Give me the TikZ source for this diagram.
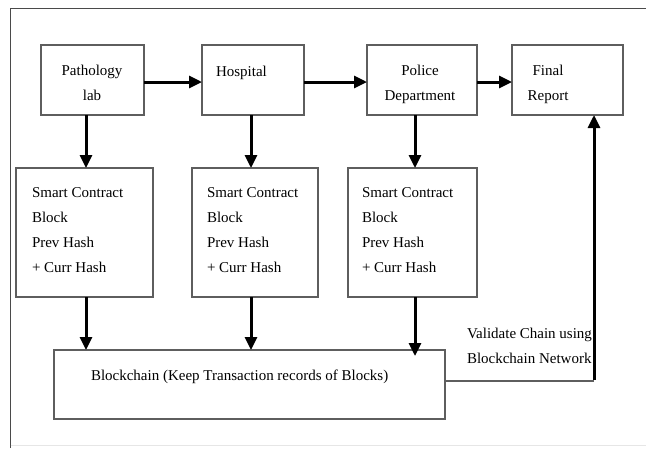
\documentclass[tikz,border=0pt]{standalone}
\usepackage{fontspec}
\setmainfont{Liberation Serif}
\usetikzlibrary{arrows.meta}
\definecolor{boxgrey}{HTML}{5E5E5E}
\definecolor{framegrey}{HTML}{4A4A4A}
\definecolor{faintgrey}{HTML}{E6E6E6}
\begin{document}
\begin{tikzpicture}[x=1pt,y=-1pt,
  box/.style={draw=boxgrey, line width=1.1pt, inner sep=0pt, outer sep=0pt},
  txt/.style={inner sep=0pt, outer sep=0pt, align=left, font=\fontsize{15}{24.7}\selectfont},
  arr/.style={line width=3pt, -{Triangle[length=13pt,width=12pt]}},
  thinline/.style={draw=boxgrey, line width=1.1pt}]
\useasboundingbox (0,0) rectangle (646,448);
% outer frame
\draw[framegrey, line width=1pt] (10.5,448) -- (10.5,8) -- (646,8);
\draw[faintgrey, line width=0.8pt] (10.5,445) -- (646,445);
% top row boxes
\node[box, minimum width=103pt, minimum height=70pt] (path) at (92.5,80) {};
\node[box, minimum width=102pt, minimum height=70pt] (hosp) at (253,80) {};
\node[box, minimum width=110pt, minimum height=70pt] (pol) at (422,80) {};
\node[box, minimum width=111pt, minimum height=70pt] (fin) at (567.5,80) {};
% smart contract boxes
\node[box, minimum width=137pt, minimum height=129pt] (sc1) at (84.5,232.5) {};
\node[box, minimum width=126pt, minimum height=129pt] (sc2) at (255,232.5) {};
\node[box, minimum width=129pt, minimum height=129pt] (sc3) at (412.5,232.5) {};
% blockchain box
\node[box, minimum width=391pt, minimum height=69pt] (bc) at (249.5,384.5) {};
% texts
\node[txt, align=center, anchor=base] (tpath) at (92,100) {Pathology\\lab};
\node[txt, anchor=base west] (thosp) at (216,76) {Hospital};
\node[txt, align=center, anchor=base] (tpol) at (420,100) {Police\\Department};
\node[txt, align=center, anchor=base] (tfin) at (548,100) {Final\\Report};
\node[txt, anchor=north west] (tsc1) at (32,188) {Smart Contract\\Block\\Prev Hash\\+ Curr Hash};
\node[txt, anchor=north west] (tsc2) at (207,188) {Smart Contract\\Block\\Prev Hash\\+ Curr Hash};
\node[txt, anchor=north west] (tsc3) at (362,188) {Smart Contract\\Block\\Prev Hash\\+ Curr Hash};
\node[txt, anchor=base west] (tbc) at (91,380) {Blockchain (Keep Transaction records of Blocks)};
\node[txt, anchor=north west] (tval) at (467,328) {Validate Chain using\\Blockchain Network};
% horizontal arrows
\draw[arr] ([yshift=-2pt]path.east) -- ([yshift=-2pt]hosp.west);
\draw[arr] ([yshift=-2pt]hosp.east) -- ([yshift=-2pt]pol.west);
\draw[arr] ([yshift=-2pt]pol.east) -- ([yshift=-2pt]fin.west);
% vertical arrow columns
\coordinate (c1) at (86,0);
\coordinate (c2) at (251,0);
\coordinate (c3) at (415,0);
\draw[arr] (c1 |- path.south) -- (c1 |- sc1.north);
\draw[arr] (c2 |- hosp.south) -- (c2 |- sc2.north);
\draw[arr] (c3 |- pol.south) -- (c3 |- sc3.north);
\draw[arr] (c1 |- sc1.south) -- (c1 |- bc.north);
\draw[arr] (c2 |- sc2.south) -- (c2 |- bc.north);
\draw[arr] (c3 |- sc3.south) -- ([yshift=-6pt]c3 |- bc.north);
% validation path
\coordinate (v) at (594,381);
\draw[thinline] (bc.east |- v) -- (v);
\draw[arr] ([yshift=1.5pt]v) -- (v |- fin.south);
\end{tikzpicture}
\end{document}
